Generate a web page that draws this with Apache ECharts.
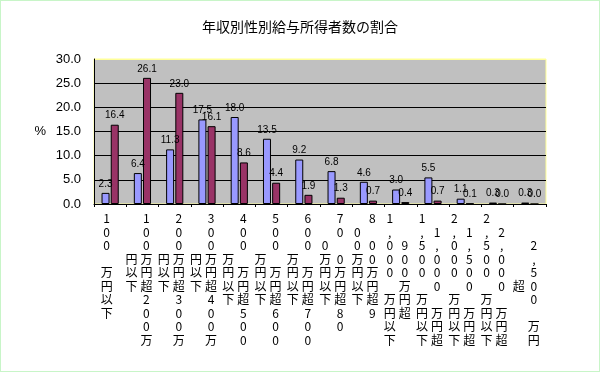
<!DOCTYPE html>
<html>
<head>
<meta charset="utf-8">
<script src="https://cdn.jsdelivr.net/npm/echarts@6/dist/echarts.min.js"></script>
<style>
  html, body { margin: 0; padding: 0; background: #fff; }
  #wrap { position: relative; width: 600px; height: 372px; }
  #chart { width: 600px; height: 372px; }
  #frame { position: absolute; left: 0; top: 0; width: 600px; height: 372px; box-sizing: border-box;
           border: 1px solid #c8f5c8; pointer-events: none; }
</style>
</head>
<body>
<div id="wrap"><div id="chart"></div><div id="frame"></div></div>
<script>
// ---- data ----
const title = '年収別性別給与所得者数の割合';
const categories = [
  '100万円以下',
  '100万円超200万円以下',
  '200万円超300万円以下',
  '300万円超400万円以下',
  '400万円超500万円以下',
  '500万円超600万円以下',
  '600万円超700万円以下',
  '700万円超800万円以下',
  '800万円超900万円以下',
  '900万円超1,000万円以下',
  '1,000万円超1,500万円以下',
  '1,500万円超2,000万円以下',
  '2,000万円超2,500万円以下',
  '2,500万円超'
];
const maleShare   = [2.3, 6.4, 11.3, 17.5, 18.0, 13.5, 9.2, 6.8, 4.6, 3.0, 5.5, 1.1, 0.3, 0.3];
const femaleShare = [16.4, 26.1, 23.0, 16.1, 8.6, 4.4, 1.9, 1.3, 0.7, 0.4, 0.7, 0.1, 0.0, 0.0];
const yAxisName = '%';
const yMin = 0, yMax = 30, yStep = 5;

// ---- vertical label layout (how each name wraps into columns, read right-to-left) ----
const labelLayout = [
  { split: 7,  rGap: 3,  lGap: -1, rOff: 0, lOff: 0 },
  { split: 10, rGap: -1, lGap: -1, rOff: 0, lOff: 3 },
  { split: 10, rGap: -1, lGap: -1, rOff: 0, lOff: 3 },
  { split: 10, rGap: -1, lGap: -1, rOff: 0, lOff: 3 },
  { split: 9,  rGap: 3,  lGap: -1, rOff: 0, lOff: 3 },
  { split: 9,  rGap: 3,  lGap: -1, rOff: 0, lOff: 3 },
  { split: 9,  rGap: 3,  lGap: -1, rOff: 0, lOff: 3 },
  { split: 8,  rGap: 2,  lGap: -1, rOff: 0, lOff: 2 },
  { split: 7,  rGap: 1,  lGap: -1, rOff: 0, lOff: 1 },
  { split: 6,  rGap: -1, lGap: 5,  rOff: 2, lOff: 0 },
  { split: 8,  rGap: 5,  lGap: 5,  rOff: 1, lOff: 0 },
  { split: 8,  rGap: 5,  lGap: 5,  rOff: 1, lOff: 0 },
  { split: 8,  rGap: 5,  lGap: 5,  rOff: 1, lOff: 0 },
  { split: 7,  rGap: 5,  lGap: -1, rOff: 2, lOff: 5 }
];

function verticalLabel(name, i) {
  const L = labelLayout[i];
  const right = Array.from(name.slice(0, L.split));
  const left = Array.from(name.slice(L.split));
  if (L.rGap >= 0) right.splice(L.rGap, 0, ' ');
  if (L.lGap >= 0) left.splice(L.lGap, 0, ' ');
  const rows = Math.max(L.rOff + right.length, L.lOff + left.length);
  const lines = [];
  for (let r = 0; r < rows; r++) {
    const rc = right[r - L.rOff] || ' ';
    const lc = left[r - L.lOff] || ' ';
    if (left.length === 0) lines.push('{c|' + rc + '}');
    else lines.push('{c|' + lc + '}{c|' + rc + '}');
  }
  return lines.join('\n');
}

const chart = echarts.init(document.getElementById('chart'), null, { renderer: 'canvas' });
const valueLabel = {
  show: true,
  position: 'top',
  distance: 4,
  color: '#000',
  fontSize: 10,
  fontFamily: 'Liberation Sans, Arial, sans-serif',
  formatter: p => p.value.toFixed(1)
};
chart.setOption({
  animation: false,
  backgroundColor: '#fff',
  title: {
    text: title,
    left: 'center',
    top: 15,
    textStyle: { fontFamily: 'Noto Sans CJK JP', fontSize: 14, fontWeight: 'normal', color: '#000' }
  },
  grid: {
    left: 94, right: 54, top: 59, bottom: 168,
    show: true, backgroundColor: '#C0C0C0', borderColor: '#FFFF99', borderWidth: 1
  },
  xAxis: {
    type: 'category',
    data: categories,
    axisLine: { show: true, lineStyle: { color: '#000', width: 1 } },
    axisTick: { show: true, length: 3, lineStyle: { color: '#000' } },
    axisLabel: {
      interval: 0,
      margin: 8,
      padding: [0, 7, 0, 0],
      formatter: (v, i) => verticalLabel(v, i),
      rich: {
        c: { width: 15, align: 'center', lineHeight: 13.5, fontSize: 12,
             fontFamily: 'Noto Sans CJK JP', color: '#000' }
      }
    }
  },
  yAxis: {
    type: 'value',
    min: yMin, max: yMax, interval: yStep,
    name: yAxisName,
    nameLocation: 'middle',
    nameRotate: 0,
    nameGap: 48,
    nameTextStyle: { fontSize: 13, color: '#000', fontFamily: 'Liberation Sans, Arial, sans-serif' },
    axisLine: { show: true, lineStyle: { color: '#000', width: 1 } },
    axisTick: { show: false },
    axisLabel: {
      margin: 13, fontSize: 13, color: '#000',
      fontFamily: 'Liberation Sans, Arial, sans-serif',
      formatter: v => v.toFixed(1)
    },
    splitLine: { show: true, lineStyle: { color: ['#000', '#000', '#000', '#000', '#000', '#000', '#FFFF99'], width: 1 } }
  },
  series: [
    {
      name: '男性', type: 'bar', data: maleShare,
      barWidth: 8, barGap: '15%',
      itemStyle: { color: '#9999FF', borderColor: '#000', borderWidth: 1 },
      label: valueLabel
    },
    {
      name: '女性', type: 'bar', data: femaleShare,
      barWidth: 8, barGap: '15%',
      itemStyle: { color: '#993366', borderColor: '#000', borderWidth: 1 },
      label: valueLabel
    }
  ]
});
</script>
</body>
</html>
